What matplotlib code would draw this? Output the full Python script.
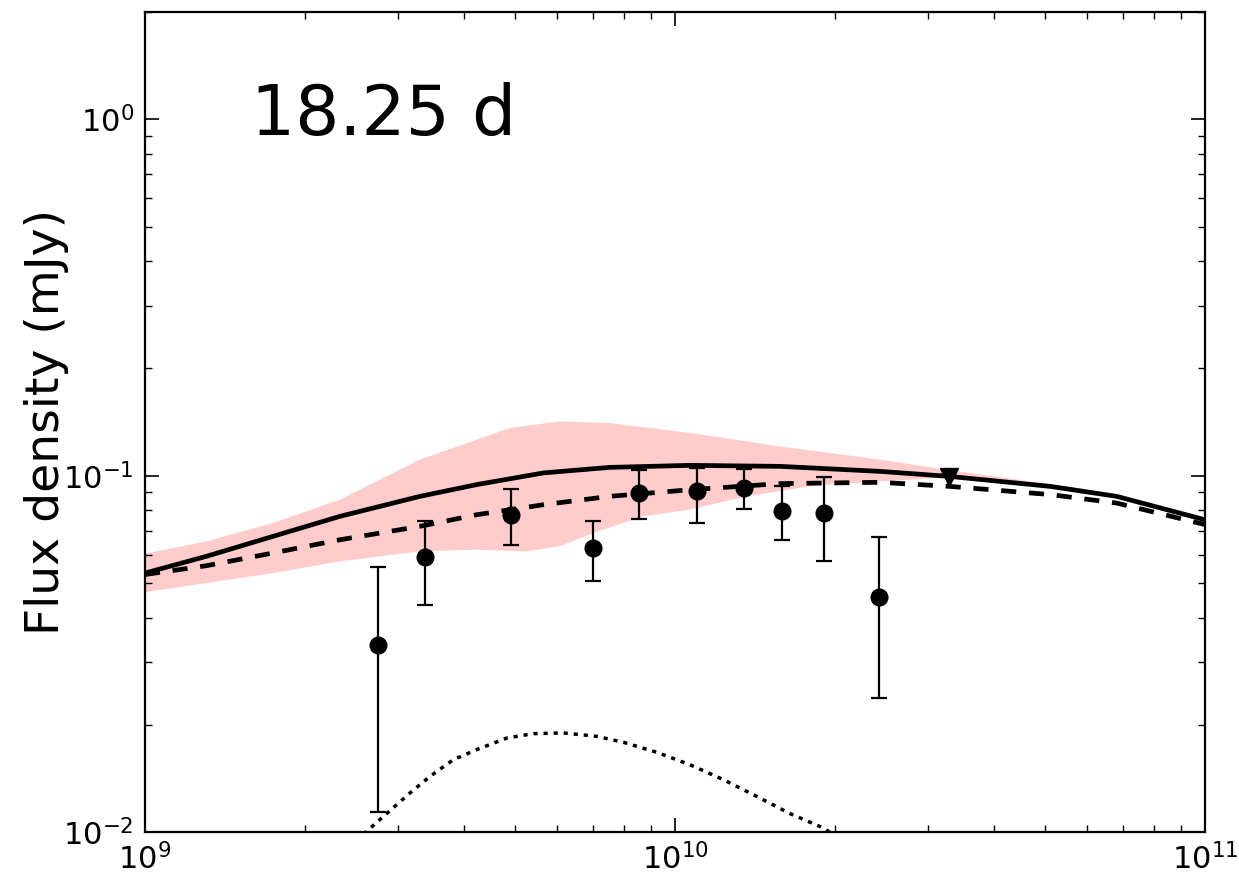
import matplotlib
matplotlib.use('Agg')
import matplotlib.pyplot as plt
import numpy as np

plt.rcParams['axes.unicode_minus'] = False

# observed points (Hz, mJy)
freq = [2.75e9, 3.38e9, 4.91e9, 7.0e9, 8.55e9, 1.10e10, 1.35e10, 1.59e10, 1.91e10, 2.43e10]
flux = [0.0336, 0.0593, 0.0778, 0.0628, 0.0896, 0.0908, 0.0925, 0.0797, 0.0787, 0.0458]
err_hi = [0.0555, 0.0748, 0.092, 0.0748, 0.104, 0.105, 0.1046, 0.0937, 0.0994, 0.0675]
err_lo = [0.0114, 0.0435, 0.064, 0.0507, 0.0757, 0.0738, 0.0808, 0.0658, 0.0578, 0.0238]

# upper limit
ul_freq = [3.29e10]
ul_flux = [0.0994]

# model curves, log10(freq)
m_logf = [9.0, 9.116, 9.242, 9.368, 9.519, 9.626, 9.752, 9.877, 10.028, 10.198, 10.387, 10.519, 10.708, 10.833, 11.0]
m_tot = [0.0533, 0.0594, 0.0676, 0.0769, 0.0875, 0.0944, 0.1018, 0.1055, 0.1069, 0.1062, 0.1028, 0.0995, 0.0933, 0.0875, 0.0752]
m_dash = [0.0528, 0.0559, 0.0607, 0.0661, 0.0721, 0.0777, 0.0829, 0.0875, 0.0913, 0.0950, 0.0958, 0.0933, 0.0885, 0.0838, 0.0729]

# shaded band edges
bh_logf = [9.0, 9.116, 9.242, 9.368, 9.519, 9.626, 9.689, 9.783, 9.877, 10.028, 10.198, 10.387, 10.513, 10.770, 10.896, 11.0]
b_hi = [0.0604, 0.0654, 0.0737, 0.0857, 0.111, 0.1262, 0.1361, 0.1420, 0.1405, 0.1318, 0.1208, 0.1109, 0.1039, 0.0919, 0.0840, 0.0762]
bl_logf = [9.0, 9.116, 9.242, 9.368, 9.519, 9.626, 9.720, 9.783, 9.846, 9.940, 10.028, 10.135, 10.261, 10.387, 10.513, 10.708, 10.833, 11.0]
b_lo = [0.0471, 0.0500, 0.0533, 0.0575, 0.0613, 0.0620, 0.0613, 0.0634, 0.0691, 0.0769, 0.0803, 0.0875, 0.0937, 0.0964, 0.0987, 0.0925, 0.0868, 0.0743]

# dotted component
d_logf = [9.40, 9.415, 9.450, 9.500, 9.538, 9.582, 9.626, 9.683, 9.733, 9.789, 9.852, 9.903, 9.966, 10.028, 10.091, 10.154, 10.217, 10.280, 10.30]
d_flux = [0.0094, 0.00995, 0.01107, 0.01288, 0.01434, 0.01597, 0.01704, 0.01837, 0.01889, 0.01898, 0.01857, 0.01786,
          0.01674, 0.01546, 0.01404, 0.01260, 0.01127, 0.01027, 0.0098]

fig = plt.figure(figsize=(12.39, 8.75), dpi=100)
ax = fig.add_axes([0.117, 0.049, 0.8556, 0.9374])

poly_x = np.concatenate([10**np.array(bh_logf), 10**np.array(bl_logf)[::-1]])
poly_y = np.concatenate([b_hi, b_lo[::-1]])
ax.fill(poly_x, poly_y, color='#ffcccc', lw=0, zorder=1)

ax.plot(10**np.array(m_logf), m_tot, 'k-', lw=3.4, zorder=3)
ax.plot(10**np.array(m_logf), m_dash, 'k--', lw=3.4, dashes=(3.2, 2.7), zorder=3)
ax.plot(10**np.array(d_logf), d_flux, 'k:', lw=2.5, dashes=(1.2, 1.7), zorder=3)

yerr = [np.array(flux) - np.array(err_lo), np.array(err_hi) - np.array(flux)]
ax.errorbar(freq, flux, yerr=yerr, fmt='o', color='k', ms=12, elinewidth=1.6,
            capsize=6, capthick=1.6, zorder=4)
ax.plot(ul_freq, ul_flux, 'kv', ms=13, zorder=4)

ax.set_xscale('log')
ax.set_yscale('log')
ax.set_xlim(1e9, 1e11)
ax.set_ylim(1e-2, 2.0)

ax.text(0.1, 0.874, '18.25 d', transform=ax.transAxes, fontsize=50, ha='left', va='center')
ax.set_ylabel('Flux density (mJy)', fontsize=34, labelpad=-4)

ax.tick_params(which='both', direction='in', top=True, right=True, labelsize=22, pad=8)
ax.tick_params(which='major', length=10, width=1.2)
ax.tick_params(which='minor', length=5, width=1)
for s in ax.spines.values():
    s.set_linewidth(1.6)

fig.savefig('out.png', dpi=100)
